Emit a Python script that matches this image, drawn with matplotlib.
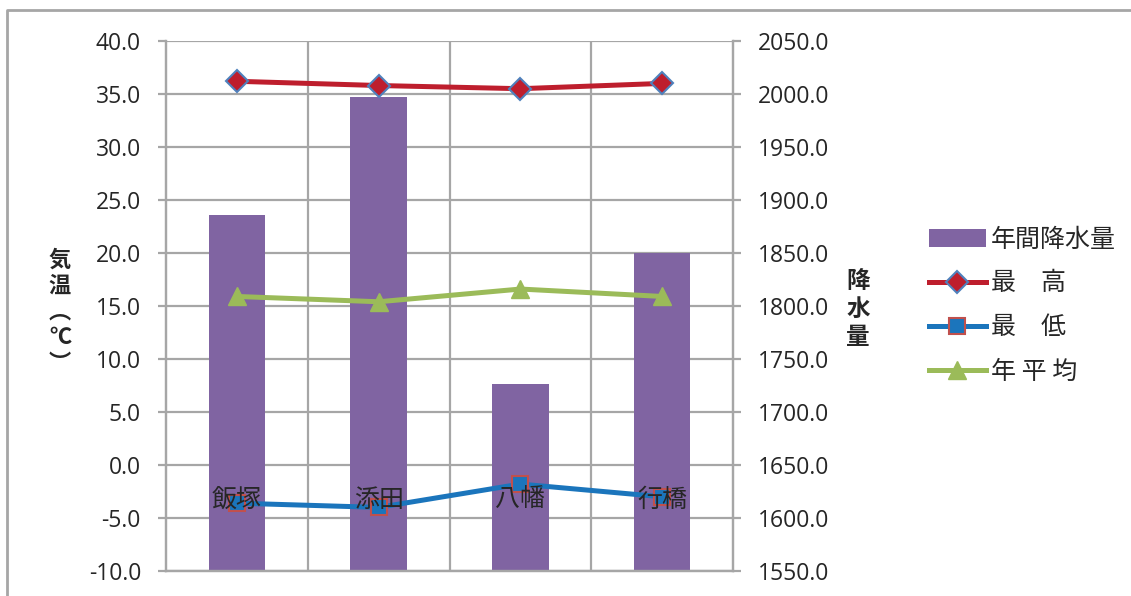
import matplotlib.pyplot as plt
from matplotlib.lines import Line2D

plt.rcParams['font.family'] = ['Open Sans', 'Noto Sans CJK JP', 'DejaVu Sans']

# data
stations = ["飯塚", "添田", "八幡", "行橋"]
rain = [1885.5, 1997.0, 1726.0, 1850.0]        # 年間降水量 (mm)
t_max = [36.2, 35.8, 35.5, 36.0]               # 最高
t_min = [-3.6, -4.0, -1.8, -3.0]               # 最低
t_avg = [15.9, 15.4, 16.6, 15.9]               # 年平均

temp_ticks = [-10, -5, 0, 5, 10, 15, 20, 25, 30, 35, 40]
rain_ticks = [1550, 1600, 1650, 1700, 1750, 1800, 1850, 1900, 1950, 2000, 2050]

W, H = 1131, 596
fig = plt.figure(figsize=(W / 100, H / 100), dpi=100)

grid_c = '#A6A6A6'
text_c = '#262626'
x = list(range(len(stations)))

# bars on the back axes (right scale), lines on the front axes (left scale)
ax2 = fig.add_axes([166 / W, 1 - 571 / H, (733 - 166) / W, (571 - 41) / H])
ax = ax2.twinx()
ax2.yaxis.tick_right()
ax.yaxis.tick_left()
ax.set_zorder(ax2.get_zorder() + 1)
ax.patch.set_visible(False)

bars = ax2.bar(x, rain, width=0.4, color='#8064A2', zorder=2, label='年間降水量')
ax2.set_ylim(1550, 2050)
ax2.set_yticks(rain_ticks)
ax2.set_yticklabels([f"{v:.1f}" for v in rain_ticks])
ax2.set_xlim(-0.5, len(stations) - 0.5)
ax2.set_xticks([i + 0.5 for i in x[:-1]])
ax2.set_xticklabels([])
ax2.tick_params(axis='x', length=0)
ax2.grid(True, color=grid_c, lw=1.6, zorder=0)
ax2.set_axisbelow(True)
ax2.tick_params(axis='y', direction='out', length=6, width=1.6, color=grid_c,
                labelsize=16.5, labelcolor=text_c, pad=12)

l1, = ax.plot(x, t_max, color='#BE1E2D', lw=3.6, marker='D', ms=11,
              mfc='#BE1E2D', mec='#4F81BD', mew=1.5, label='最\u3000高')
l2, = ax.plot(x, t_min, color='#1B75BC', lw=3.6, marker='s', ms=12,
              mfc='#1B75BC', mec='#C0504D', mew=1.5, label='最\u3000低')
l3, = ax.plot(x, t_avg, color='#9BBB59', lw=3.6, marker='^', ms=13,
              mfc='#9BBB59', mec='#9BBB59', mew=1, label='年 平 均')
ax.set_ylim(-10, 40)
ax.set_yticks(temp_ticks)
ax.set_yticklabels([f"{v:.1f}" for v in temp_ticks])
ax.tick_params(axis='y', direction='out', length=6, width=1.6, color=grid_c,
               labelsize=16.5, labelcolor=text_c, pad=12)

for a in (ax, ax2):
    for s in a.spines.values():
        s.set_color(grid_c)
        s.set_linewidth(1.6)
    a.spines['top'].set_visible(False)

# category labels sit just below the zero line (axis crossing)
for i, name in enumerate(stations):
    ax.annotate(name, xy=(i, 0), xytext=(0, -25), textcoords='offset points',
                ha='center', va='center', fontsize=18, color=text_c,
                family=['Noto Sans CJK JP'])

fig.text(60 / W, 1 - 312 / H, "気\n温\n︵\n℃\n︶", ha='center', va='center',
         fontsize=16, fontweight='bold', color=text_c, linespacing=1.15,
         family=['Noto Sans CJK JP', 'DejaVu Sans'])
fig.text(858 / W, 1 - 309 / H, "降\n水\n量", ha='center', va='center',
         fontsize=17, fontweight='bold', color=text_c, linespacing=1.2,
         family=['Noto Sans CJK JP'])

fig.legend(handles=[bars, l1, l2, l3], loc='upper left',
           bbox_to_anchor=(916 / W, 1 - 214 / H), frameon=False,
           prop={'family': ['Noto Sans CJK JP'], 'size': 18},
           handlelength=2.3, handletextpad=0.2, labelspacing=0.72,
           borderpad=0, labelcolor=text_c)

# outer chart border
fig.add_artist(Line2D([7 / W, 7 / W, 1.01], [-0.01, 1 - 10 / H, 1 - 10 / H],
                      transform=fig.transFigure, color='#A6A6A6', lw=2))

fig.savefig('out.png', dpi=100)
